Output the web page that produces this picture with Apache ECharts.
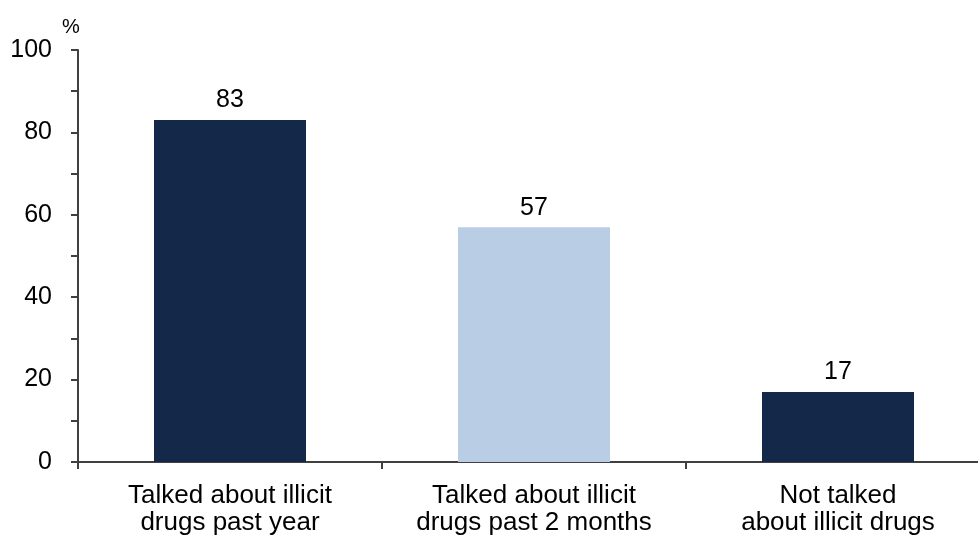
<!DOCTYPE html>
<html>
<head>
<meta charset="utf-8">
<script src="https://cdn.jsdelivr.net/npm/echarts@6/dist/echarts.min.js"></script>
<style>
  html, body { margin: 0; padding: 0; background: #fff; }
  #chart { width: 978px; height: 538px; }
</style>
</head>
<body>
<div id="chart"></div>
<script>
// Share of respondents by whether they talked about illicit drugs
const categories = [
  'Talked about illicit\ndrugs past year',
  'Talked about illicit\ndrugs past 2 months',
  'Not talked\nabout illicit drugs'
];
const values = [83, 57, 17];
const barColors = ['#14284a', '#b9cde5', '#14284a'];
const yTicks = [0, 20, 40, 60, 80, 100];

const axisColor = '#404040';
const font = 'Liberation Sans, Arial, sans-serif';

const chart = echarts.init(document.getElementById('chart'));
chart.setOption({
  animation: false,
  // the plot runs a little past the right edge of the canvas
  grid: {
    left: 78, width: 912, top: 50, bottom: 76,
    containLabel: false, outerBoundsMode: 'none'
  },
  xAxis: {
    type: 'category',
    data: categories,
    axisLine: { lineStyle: { color: axisColor, width: 2 } },
    axisTick: { show: true, length: 7, alignWithLabel: false, lineStyle: { color: axisColor, width: 2 } },
    axisLabel: {
      color: '#000', fontFamily: font, fontSize: 26, lineHeight: 27, margin: 20,
      interval: 0
    }
  },
  yAxis: {
    type: 'value',
    min: yTicks[0],
    max: yTicks[yTicks.length - 1],
    interval: 20,
    name: '%',
    nameLocation: 'end',
    nameGap: 13,
    nameTextStyle: { color: '#000', fontFamily: font, fontSize: 20, align: 'center', padding: [0, 0, 0, -14] },
    axisLine: { show: true, lineStyle: { color: axisColor, width: 2 } },
    axisTick: { show: true, length: 7, lineStyle: { color: axisColor, width: 2 } },
    minorTick: { show: true, splitNumber: 2, length: 7, lineStyle: { color: axisColor, width: 2 } },
    splitLine: { show: false },
    axisLabel: { color: '#000', fontFamily: font, fontSize: 25, margin: 26 }
  },
  series: [{
    type: 'bar',
    data: values.map((v, i) => ({ value: v, itemStyle: { color: barColors[i] } })),
    barWidth: '50%',
    label: {
      show: true, position: 'top', distance: 7,
      color: '#000', fontFamily: font, fontSize: 25
    }
  }]
});
</script>
</body>
</html>
